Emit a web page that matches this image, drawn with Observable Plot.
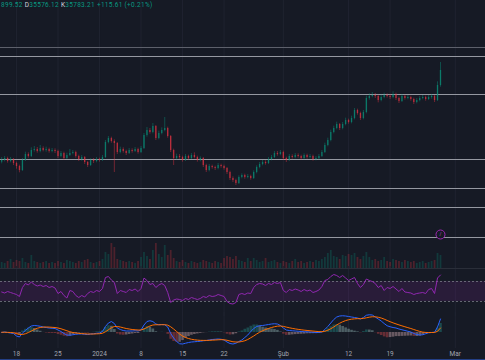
<!DOCTYPE html>
<html><head><meta charset="utf-8">
<script src="https://cdn.jsdelivr.net/npm/d3@7"></script>
<script src="https://cdn.jsdelivr.net/npm/@observablehq/plot@0.6"></script>
<style>
html,body{margin:0;padding:0;background:#161a25;}
#chart{position:relative;width:485px;height:360px;overflow:hidden;background:#161a25;font-family:Roboto,"Liberation Sans",sans-serif;}
.hdr{position:absolute;top:0;left:1px;font-size:6.5px;letter-spacing:0.3px;line-height:10px;white-space:nowrap;color:#089981;}
.hdr .l{color:#d1d4dc;}
.sep{position:absolute;left:0;width:485px;height:1px;background:#2a2e39;}
</style></head><body><div id="chart"></div>
<script>
// ---------- data ----------
const firstOpen = 33150;
const closes = [
33200,33260,33170,33230,33110,33020,32900,33200,33380,33320,
33500,33530,33470,33560,33500,33530,33470,33500,33470,33320,
33410,33260,33350,33410,33440,33320,33230,33290,33140,33050,
33200,33170,33230,33200,33290,33740,33860,33770,33710,33440,
33530,33470,33410,33500,33470,33530,33440,33560,33950,34100,
34040,34220,33860,34010,34100,34160,33920,33500,33260,33320,
33290,33200,33320,33260,33350,33290,33200,33260,33050,32900,
33020,32990,32960,33050,33020,32960,32840,32660,32600,32510,
32690,32750,32690,32720,32660,32840,32990,33080,33140,33110,
33230,33290,33410,33380,33440,33260,33200,33320,33290,33350,
33320,33260,33350,33290,33320,33230,33260,33320,33440,33650,
33800,34040,34160,34280,34160,34280,34400,34340,34460,34700,
34610,34460,34640,35060,35120,35150,35120,35000,35090,35150,
35120,35090,35180,35060,34970,35120,35060,35090,35030,34940,
35000,35060,35090,35030,35090,35120,35000,35450,35900];
const highs = [
33290,33320,33300,33290,33260,33150,33060,33260,33450,33430,
33580,33620,33590,33650,33610,33600,33570,33560,33550,33510,
33470,33450,33420,33530,33500,33480,33360,33350,33320,33170,
33250,33260,33290,33270,33350,33800,33920,33900,33820,33740,
33600,33580,33510,33560,33550,33590,33570,33620,34010,34190,
34160,34310,34250,34080,34180,34490,34200,33950,33540,33390,
33380,33330,33380,33360,33410,33430,33330,33310,33290,33090,
33080,33060,33030,33110,33090,33060,32990,32880,32710,32640,
32740,32800,32790,32780,32760,32890,33040,33140,33200,33190,
33290,33350,33470,33470,33500,33480,33300,33380,33370,33410,
33400,33360,33400,33390,33380,33360,33320,33380,33500,33720,
33870,34110,34230,34350,34310,34340,34470,34440,34530,34760,
34740,34650,34700,35130,35200,35240,35210,35160,35160,35220,
35200,35180,35260,35220,35100,35180,35160,35150,35130,35070,
35060,35120,35150,35130,35150,35180,35150,35560,36140];
const lows = [
33100,33160,33120,33130,33050,32940,32830,32870,33170,33270,
33290,33450,33420,33430,33460,33450,33420,33430,33410,33260,
33280,33200,33230,33320,33370,33270,33170,33180,33080,32990,
33020,33110,33130,33150,33170,33260,33700,33720,32840,33380,
33400,33420,33350,33380,33420,33440,33390,33410,33530,33900,
33990,34000,33800,33820,33970,34060,33870,33440,33050,33220,
33240,33150,33170,33210,33230,33250,33150,33160,32990,32840,
32860,32940,32900,32920,32970,32910,32780,32600,32540,32450,
32480,32650,32640,32650,32610,32630,32800,32950,33040,33060,
33080,33190,33260,33330,33340,33200,33140,33170,33240,33250,
33270,33210,33220,33240,33250,33180,33190,33220,33290,33410,
33610,33760,34000,34120,34100,34120,34240,34290,34300,34420,
34560,34400,34420,34600,35010,35080,35060,34930,34960,35050,
35070,35030,35050,35000,34910,34940,35010,35020,34980,34880,
34900,34960,35020,34980,35000,35040,34940,34970,35400];
const volumes = [
600,500,700,900,600,800,700,1000,600,500,
1300,700,600,500,600,700,500,600,500,700,
600,500,800,700,600,500,700,600,800,900,
600,500,600,700,900,1600,1400,2500,2100,900,
800,700,600,700,600,500,700,1100,1600,1200,
900,1800,2500,1400,1100,2300,1300,1800,1000,700,
600,800,600,500,700,600,500,600,800,700,
600,500,700,600,500,1000,1200,1100,900,1200,
800,700,600,1000,700,1000,800,600,700,1000,
600,700,800,600,500,700,600,500,700,900,
600,700,500,600,700,600,800,700,900,1100,
1500,1800,1200,1100,900,1300,1200,1400,1300,1500,
1100,900,1200,1600,1100,800,900,700,800,1100,
700,600,900,800,700,600,800,700,600,700,
500,600,700,500,600,700,800,1500,1300];
const rsiValues = [
49,47,50,48,46,44,40,58,66,63,
69,64,61,63,60,62,58,60,57,46,
50,42,37,52,50,42,38,42,39,46,
50,48,52,50,56,78,80,73,68,46,
52,50,48,54,52,55,50,56,77,72,
64,66,58,63,66,62,48,28,33,35,
34,32,36,34,38,36,34,36,40,38,
42,40,41,44,42,40,30,26,25,28,
44,46,44,47,46,58,64,66,65,62,
66,64,68,66,68,52,48,54,52,55,
53,50,54,51,53,48,50,53,60,72,
74,80,84,82,78,82,77,72,75,78,
66,58,64,75,72,70,66,58,62,52,
58,56,60,55,50,56,49,48,47,44,
46,47,48,46,54,56,46,77,83];
const macdValues = [
0,10,0,-10,-20,-70,-90,-10,40,90,
130,140,135,125,110,100,90,85,80,50,
20,-20,-50,-55,-45,-35,-30,-28,-35,-40,
-30,-25,-15,-10,20,120,190,220,180,90,
60,40,30,30,30,35,30,50,150,220,
235,220,170,155,160,155,110,-20,-110,-180,
-225,-230,-215,-200,-190,-185,-180,-175,-165,-160,
-150,-140,-135,-130,-135,-150,-190,-220,-230,-215,
-180,-150,-100,-50,20,80,120,135,140,150,
160,170,175,170,140,90,50,40,35,30,
25,20,15,15,10,5,0,0,10,60,
120,190,260,310,330,335,330,320,310,300,
290,270,300,345,355,350,310,270,230,180,
135,115,100,90,70,55,40,25,10,-20,
-40,-50,-45,-25,-5,0,5,110,270];
const signalValues = [
5,5,3,0,-5,-20,-40,-40,-25,0,
30,60,85,100,108,110,108,104,100,90,
75,55,35,15,0,-10,-18,-22,-26,-30,
-30,-30,-27,-24,-15,15,55,95,120,120,
110,95,80,70,60,55,50,50,70,100,
130,150,155,155,156,156,147,115,70,20,
-30,-70,-100,-120,-135,-145,-152,-157,-158,-158,
-157,-153,-150,-146,-143,-145,-155,-170,-185,-190,
-190,-180,-165,-140,-105,-70,-30,5,35,60,
80,100,115,127,130,122,108,95,83,72,
63,55,47,41,35,29,23,18,17,25,
45,75,110,150,185,215,238,255,266,273,
277,276,281,294,306,315,314,305,290,268,
241,216,193,172,152,133,115,97,80,60,
40,22,8,1,0,0,1,23,90];
const levels = [36320, 35180, 33230, 32360, 31790, 30890];
const mutedLevels = [36590];
const eventPrices = [30980];
const tickDates = ["2023-12-18","2023-12-25","2024-01-01","2024-01-08","2024-01-15","2024-01-22","2024-02-01","2024-02-12","2024-02-19","2024-03-01"];
const tickLabels = ["18","25","2024","8","15","22","Şub","12","19","Mar"];
const header = [["","899.52"],["D","35576.12"],["K","35783.21"],["","+115.61 (+0.21%)"]];

// ---------- build ----------
const start = Date.UTC(2023, 11, 15, 12);
const n = Math.min(closes.length, highs.length, lows.length, volumes.length, rsiValues.length, macdValues.length, signalValues.length);
const UP = "#089981", DOWN = "#f23645";
const candles = d3.range(n).map(i => {
  const open = i ? closes[i - 1] : firstOpen;
  return {date: new Date(start + i * 12 * 3600e3), open, close: closes[i], high: highs[i], low: lows[i],
    volume: volumes[i], rsi: rsiValues[i], macd: macdValues[i], signal: signalValues[i],
    hist: macdValues[i] - signalValues[i], prevHist: i ? macdValues[i-1] - signalValues[i-1] : 0,
    color: closes[i] >= open ? UP : DOWN};
});
const ticks = tickDates.map((d, i) => ({date: new Date(d + "T00:00:00Z"), label: tickLabels[i]}));
const events = eventPrices.map(p => ({date: candles[n - 1].date, price: p}));
const xDomain = [new Date(Date.UTC(2023, 11, 15, 7, 15)), new Date(Date.UTC(2024, 2, 6, 2, 10))];
const chart = document.getElementById("chart");
const base = {width: 485, marginTop: 0, marginRight: 0, marginBottom: 0, marginLeft: 0,
  x: {type: "utc", domain: xDomain, axis: null}, color: {type: "identity"}, style: {background: "transparent", overflow: "visible"}};
function place(svg, top) { svg.style.position = "absolute"; svg.style.left = "0px"; svg.style.top = top + "px"; chart.appendChild(svg); }
const grid = Plot.ruleX(ticks, {x: "date", stroke: "#1f2330", strokeWidth: 1});

// main price pane
place(Plot.plot({...base, height: 268, y: {domain: [29960, 38000], axis: null},
  marks: [
    grid,
    Plot.ruleY(mutedLevels, {stroke: "#5d606b", strokeWidth: 1.2}),
    Plot.ruleY(levels, {stroke: "#9598a1", strokeWidth: 1.1}),
    Plot.ruleX(candles, {x: "date", y1: "low", y2: "high", stroke: "color", strokeWidth: 0.7, strokeOpacity: 0.6}),
    Plot.ruleX(candles, {x: "date", y1: "open", y2: "close", stroke: "color", strokeWidth: 1.4, strokeOpacity: 0.6}),
    Plot.dot(events, {x: "date", y: "price", r: 4.5, stroke: "#9c27b0", fill: "#161a25", strokeWidth: 1}),
    Plot.text(events, {x: "date", y: "price", text: () => "/", fill: "#ab47bc", fontSize: 5})
  ]}), 0);

// volume overlay
place(Plot.plot({...base, height: 30, y: {domain: [0, 3000], axis: null},
  marks: [Plot.ruleX(candles, {x: "date", y1: 0, y2: "volume", stroke: "color", strokeWidth: 1.8, strokeOpacity: 0.25})]}), 238);

// RSI pane
place(Plot.plot({...base, height: 50, y: {domain: [0, 100], axis: null},
  marks: [
    grid,
    Plot.rectY([{y1: 30, y2: 70}], {x1: xDomain[0], x2: xDomain[1], y1: "y1", y2: "y2", fill: "#9c27b0", fillOpacity: 0.15}),
    Plot.ruleY([30, 70], {stroke: "#787b86", strokeDasharray: "2,2", strokeWidth: 0.8}),
    Plot.line(candles, {x: "date", y: "rsi", stroke: "#9027b0", strokeWidth: 1})
  ]}), 266);

// MACD pane
place(Plot.plot({...base, height: 36, y: {domain: [-320, 400], axis: null},
  marks: [
    grid,
    Plot.ruleX(candles, {x: "date", y1: 0, y2: "hist", strokeWidth: 2.6, strokeOpacity: 0.35,
      stroke: d => d.hist >= 0 ? (d.hist >= d.prevHist ? "#26a69a" : "#b2dfdb") : (d.hist < d.prevHist ? "#ff5252" : "#ffcdd2")}),
    Plot.line(candles, {x: "date", y: "macd", stroke: "#2962ff", strokeWidth: 1}),
    Plot.line(candles, {x: "date", y: "signal", stroke: "#ff6d00", strokeWidth: 1})
  ]}), 312);

// x axis labels
place(Plot.plot({...base, height: 15, y: {domain: [0, 1], axis: null},
  marks: [Plot.text(ticks, {x: "date", y: 0.5, text: "label", fill: "#a3a6af", fontSize: 6.5, fontFamily: "Roboto, sans-serif"})]}), 346);

// separators
[268].forEach(t => { const s = document.createElement("div"); s.className = "sep"; s.style.top = t + "px"; chart.appendChild(s); });
const bl = document.createElement("div"); bl.className = "sep"; bl.style.top = "359px"; bl.style.background = "#233f86"; chart.appendChild(bl);

// header
const hdr = document.createElement("div"); hdr.className = "hdr";
hdr.innerHTML = header.map(([l, v]) => (l ? `<span class="l">${l}</span>` : "") + `<span>${v}</span>`).join(" ");
chart.appendChild(hdr);
</script></body></html>
